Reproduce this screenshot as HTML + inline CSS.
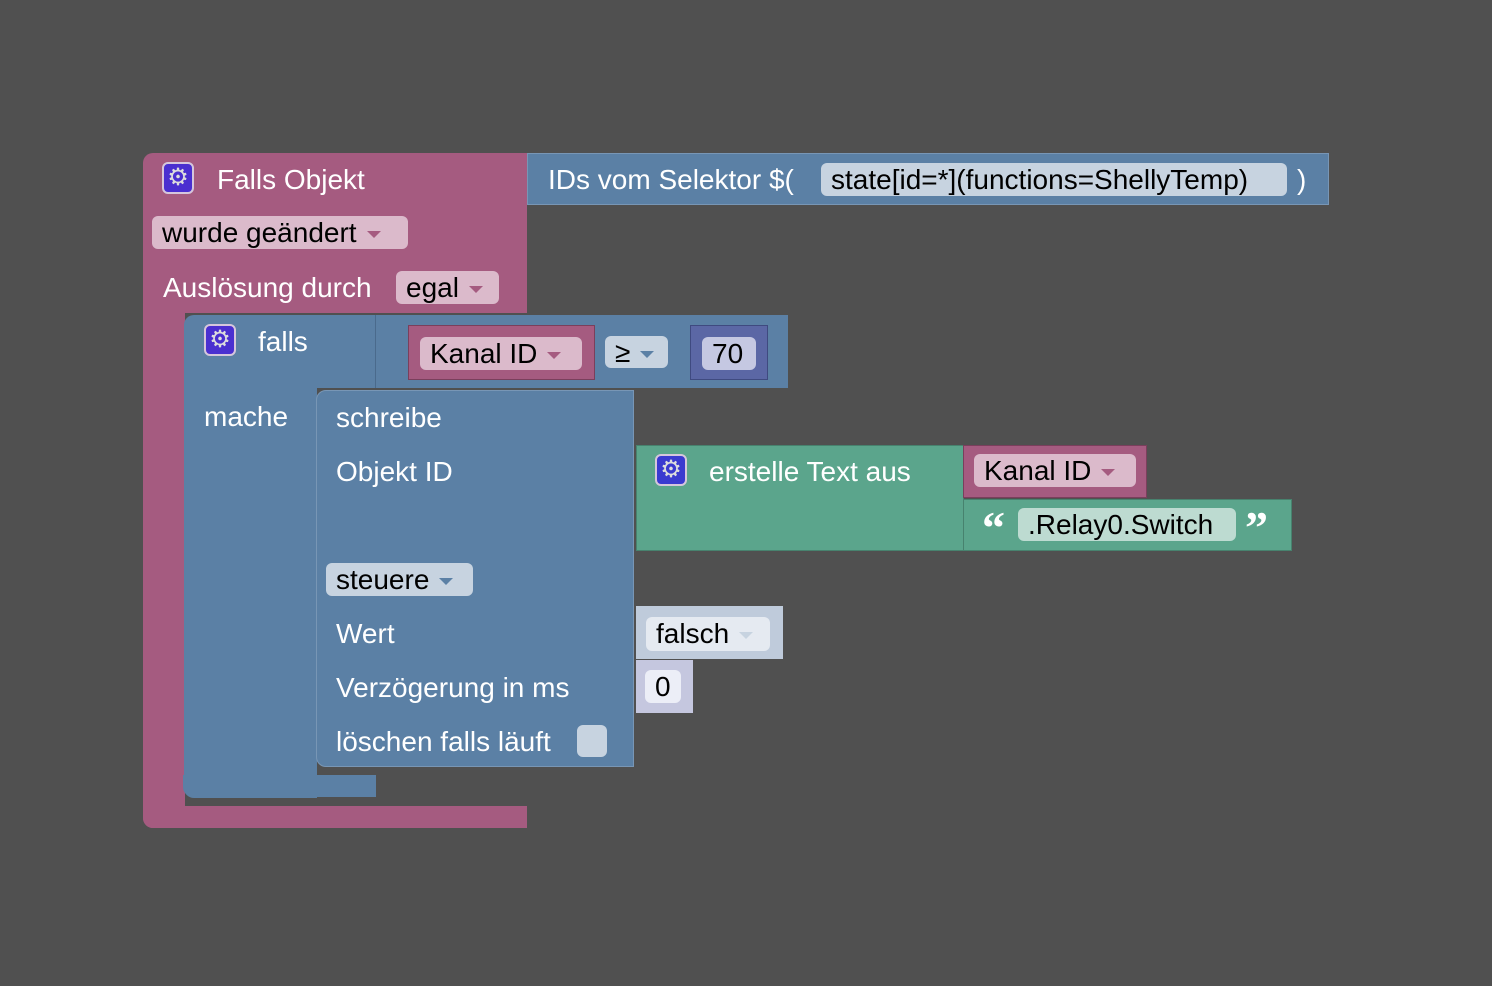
<!DOCTYPE html>
<html><head><meta charset="utf-8"><style>
body{margin:0;width:1492px;height:986px;background:#505050;position:relative;overflow:hidden;font-family:"Liberation Sans",sans-serif;}
div{position:absolute;box-sizing:border-box}
.pk{background:#a55b80}
.bl{background:#5b80a5}
.gr{background:#5ba58c}
.t{color:#fff;font-size:28px;line-height:32px;white-space:nowrap}
.chip{border-radius:6px;color:#000;font-size:28px;line-height:33px;padding-left:10px;white-space:nowrap}
.ar{display:inline-block;width:0;height:0;border-left:7px solid transparent;border-right:7px solid transparent;border-top:7px solid #a55b80;vertical-align:middle;margin-left:10px}
.gear{width:32px;height:32px;border-radius:6px;background:#4a2fd0;border:2px solid #d6c6dc;color:#ddd;font-size:24px;line-height:27px;text-align:center}
</style></head><body>
<div class="pk" style="left:143px;top:153px;width:384px;height:160px;border-radius:10px 0 0 0"></div>
<div class="pk" style="left:143px;top:300px;width:42px;height:528px;border-radius:0 0 0 10px"></div>
<div class="pk" style="left:143px;top:806px;width:384px;height:22px;border-radius:0 0 0 10px"></div>
<div class="gear" style="left:162px;top:162px">⚙</div>
<div class="t" style="left:217px;top:164px">Falls Objekt</div>
<div class="chip" style="left:152px;top:216px;width:256px;height:33px;background:#dbbacb">wurde geändert<span class="ar"></span></div>
<div class="t" style="left:163px;top:272px">Auslösung durch</div>
<div class="chip" style="left:396px;top:271px;width:103px;height:33px;background:#dbbacb">egal<span class="ar"></span></div>
<div class="bl" style="left:527px;top:153px;width:802px;height:52px;border:1px solid #7896b5"></div>
<div class="t" style="left:548px;top:164px">IDs vom Selektor $(</div>
<div class="chip" style="left:821px;top:163px;width:466px;height:33px;background:#c7d3e0">state[id=*](functions=ShellyTemp)</div>
<div class="t" style="left:1297px;top:164px">)</div>
<div class="bl" style="left:184px;top:315px;width:604px;height:73px;border-radius:10px 0 0 0"></div>
<div class="bl" style="left:184px;top:380px;width:133px;height:418px;border-radius:0 0 0 10px"></div>
<div class="bl" style="left:183px;top:775px;width:193px;height:22px;border-radius:0 0 0 10px"></div>
<div style="left:375px;top:315px;width:1px;height:73px;background:#4a6a8c"></div>
<div class="gear" style="left:204px;top:324px">⚙</div>
<div class="t" style="left:258px;top:326px">falls</div>
<div class="t" style="left:204px;top:401px">mache</div>
<div class="pk" style="left:408px;top:325px;width:187px;height:55px;border:1px solid #7a3f5c"></div>
<div class="chip" style="left:420px;top:337px;width:162px;height:33px;background:#dbbacb">Kanal ID<span class="ar"></span></div>
<div class="chip" style="left:605px;top:336px;width:63px;height:32px;background:#c7d3e0">≥<span class="ar" style="border-top-color:#5b80a5"></span></div>
<div style="left:690px;top:325px;width:78px;height:55px;background:#5b67a5;border:1px solid #3f4a80"></div>
<div class="chip" style="left:702px;top:337px;width:54px;height:33px;background:#c5c8e2">70</div>
<div class="bl" style="left:316px;top:390px;width:318px;height:377px;border-radius:10px 0 0 10px;border:1px solid #7896b5"></div>
<div class="t" style="left:336px;top:402px">schreibe</div>
<div class="t" style="left:336px;top:456px">Objekt ID</div>
<div class="chip" style="left:326px;top:563px;width:147px;height:33px;background:#c7d3e0">steuere<span class="ar" style="border-top-color:#5b80a5"></span></div>
<div class="t" style="left:336px;top:618px">Wert</div>
<div class="t" style="left:336px;top:672px">Verzögerung in ms</div>
<div class="t" style="left:336px;top:726px">löschen falls läuft</div>
<div style="left:577px;top:725px;width:30px;height:32px;border-radius:6px;background:#c7d3e0"></div>
<div class="gr" style="left:636px;top:445px;width:328px;height:106px;border:1px solid #47826e"></div>
<div class="gear" style="left:655px;top:454px;background:#3a3ad0">⚙</div>
<div class="t" style="left:709px;top:456px">erstelle Text aus</div>
<div class="pk" style="left:963px;top:445px;width:184px;height:53px;border:1px solid #7a3f5c"></div>
<div class="chip" style="left:974px;top:454px;width:162px;height:33px;background:#dbbacb">Kanal ID<span class="ar"></span></div>
<div class="gr" style="left:963px;top:499px;width:329px;height:52px;border:1px solid #47826e"></div>
<div class="t" style="left:982px;top:505px;font-size:46px;line-height:46px;font-weight:bold;font-family:'Liberation Serif',serif">“</div>
<div class="chip" style="left:1018px;top:508px;width:218px;height:33px;background:#bddbd1">.Relay0.Switch</div>
<div class="t" style="left:1245px;top:505px;font-size:46px;line-height:46px;font-weight:bold;font-family:'Liberation Serif',serif">”</div>
<div style="left:636px;top:606px;width:147px;height:53px;background:#bfcbdb"></div>
<div class="chip" style="left:646px;top:617px;width:124px;height:34px;background:#e5eaf1">falsch<span class="ar" style="border-top-color:#c7d3e0"></span></div>
<div style="left:636px;top:660px;width:57px;height:53px;background:#c5c7df"></div>
<div class="chip" style="left:645px;top:670px;width:36px;height:33px;background:#eceef7">0</div>
</body></html>
